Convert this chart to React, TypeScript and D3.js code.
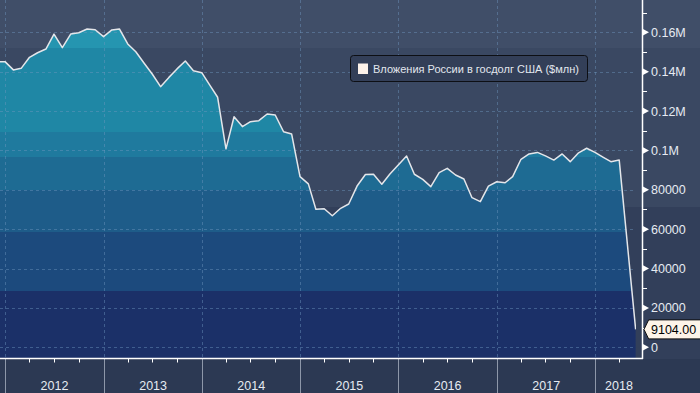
import React from 'react';
import * as d3 from 'd3';

// monthly values, $ mln
const dates = [
  '2011-12-01',
  '2012-01-01', '2012-02-01', '2012-03-01', '2012-04-01', '2012-05-01', '2012-06-01',
  '2012-07-01', '2012-08-01', '2012-09-01', '2012-10-01', '2012-11-01', '2012-12-01',
  '2013-01-01', '2013-02-01', '2013-03-01', '2013-04-01', '2013-05-01', '2013-06-01',
  '2013-07-01', '2013-08-01', '2013-09-01', '2013-10-01', '2013-11-01', '2013-12-01',
  '2014-01-01', '2014-02-01', '2014-03-01', '2014-04-01', '2014-05-01', '2014-06-01',
  '2014-07-01', '2014-08-01', '2014-09-01', '2014-10-01', '2014-11-01', '2014-12-01',
  '2015-01-01', '2015-02-01', '2015-03-01', '2015-04-01', '2015-05-01', '2015-06-01',
  '2015-07-01', '2015-08-01', '2015-09-01', '2015-10-01', '2015-11-01', '2015-12-01',
  '2016-01-01', '2016-02-01', '2016-03-01', '2016-04-01', '2016-05-01', '2016-06-01',
  '2016-07-01', '2016-08-01', '2016-09-01', '2016-10-01', '2016-11-01', '2016-12-01',
  '2017-01-01', '2017-02-01', '2017-03-01', '2017-04-01', '2017-05-01', '2017-06-01',
  '2017-07-01', '2017-08-01', '2017-09-01', '2017-10-01', '2017-11-01', '2017-12-01',
  '2018-01-01', '2018-02-01', '2018-03-01', '2018-04-01', '2018-06-01',
];

const holdings = [
  145100,
  145100, 140900, 141700, 147300, 149600, 151500,
  159100, 152200, 159100, 159800, 161700, 161300,
  157800, 161200, 161700, 154100, 150100, 144300,
  138800, 132400, 137100, 141400, 145400, 140500,
  139500, 132900, 127000, 100800, 117100, 112100,
  114600, 115100, 118500, 118000, 109500, 108300,
  86700, 83000, 70100, 70400, 66800, 70600,
  72800, 81900, 87800, 87900, 82800, 88000,
  92600, 97200, 87900, 85300, 81600, 88700,
  90900, 87500, 85500, 76000, 74000, 81900,
  84100, 83600, 86700, 95500, 98200, 99000,
  97200, 95100, 98200, 94300, 98800, 101100,
  99000, 96500, 94300, 95100, 9104,
];

const years = [2012, 2013, 2014, 2015, 2016, 2017, 2018];
const yMajor = [0, 20000, 40000, 60000, 80000, 100000, 120000, 140000, 160000];
const yMinor = [10000, 30000, 50000, 70000, 90000, 110000, 130000, 150000, 170000];
const legendLabel = 'Вложения России в госдолг США ($млн)';

const W = 700;
const H = 393;
const plotBottom = 359;
const axisX = 642.5;
const plotRight = 636;
const font = '"Liberation Sans", Arial, sans-serif';

const fmtTick = (v: number) => (v >= 100000 ? `${v / 1000000}M` : `${v}`);

export default function App() {
  const parse = d3.timeParse('%Y-%m-%d');
  const data = dates.map((d, i) => ({ date: parse(d) as Date, value: holdings[i] }));

  const x = d3.scaleTime()
    .domain([new Date(2012, 0, 1), new Date(2018, 0, 1)])
    .range([5, 595]);
  const y = d3.scaleLinear().domain([0, 160000]).range([347.3, 32.3]);

  const area = d3.area<{ date: Date; value: number }>()
    .x(d => x(d.date))
    .y0(plotBottom)
    .y1(d => y(d.value));
  const line = d3.line<{ date: Date; value: number }>()
    .x(d => x(d.date))
    .y(d => y(d.value));

  const quarters = d3.timeMonth
    .every(3)!
    .range(new Date(2011, 11, 15), new Date(2018, 5, 15))
    .filter(d => d.getMonth() !== 0);

  const last = data[data.length - 1];
  const lx = x(last.date);
  const ly = y(last.value);

  // banded fill, like the terminal's stepped gradient
  const fillBands: [number, string][] = [
    [48, '#2595b0'],
    [132, '#1f87a5'],
    [157, '#1f7a9e'],
    [190, '#1e6b93'],
    [232, '#1e5c89'],
    [291, '#1c4a7d'],
    [plotBottom, '#1b3068'],
  ];
  const stops: { off: number; color: string }[] = [];
  let prev = 0;
  fillBands.forEach(([end, color]) => {
    stops.push({ off: prev / plotBottom, color });
    stops.push({ off: end / plotBottom, color });
    prev = end;
  });

  return (
    <svg width={W} height={H} style={{ position: 'absolute', left: 0, top: 0, fontFamily: font }}>
      <defs>
        <linearGradient id="fillGrad" x1="0" y1="0" x2="0" y2={plotBottom} gradientUnits="userSpaceOnUse">
          {stops.map((s, i) => (
            <stop key={i} offset={s.off} stopColor={s.color} />
          ))}
        </linearGradient>
        <clipPath id="plotClip">
          <rect x={0} y={0} width={plotRight} height={plotBottom} />
        </clipPath>
      </defs>

      {/* background bands */}
      <rect x={0} y={0} width={W} height={48} fill="#404e68" />
      <rect x={0} y={48} width={W} height={159} fill="#3a4862" />
      <rect x={0} y={207} width={W} height={plotBottom - 207} fill="#323f5a" />
      <rect x={0} y={plotBottom} width={W} height={H - plotBottom} fill="#2c3953" />

      <g clipPath="url(#plotClip)">
        <path d={area(data) || ''} fill="url(#fillGrad)" />
      </g>

      {/* grid */}
      {yMajor.map(v => (
        <line key={v} x1={0} x2={plotRight} y1={Math.round(y(v)) + 0.5} y2={Math.round(y(v)) + 0.5}
          stroke="rgba(110,150,190,0.45)" strokeDasharray="3,3" />
      ))}
      {years.map(yr => (
        <line key={yr} x1={Math.round(x(new Date(yr, 0, 1))) + 0.5} x2={Math.round(x(new Date(yr, 0, 1))) + 0.5}
          y1={0} y2={plotBottom} stroke="rgba(110,150,190,0.45)" strokeDasharray="3,3" />
      ))}

      <g clipPath="url(#plotClip)">
        <path d={line(data) || ''} fill="none" stroke="#e4e6ea" strokeWidth={1.5} strokeLinejoin="round" />
      </g>

      {/* x axis */}
      {years.map(yr => {
        const x0 = Math.round(x(new Date(yr, 0, 1))) + 0.5;
        const x1 = Math.min(x(new Date(yr + 1, 0, 1)), axisX);
        return (
          <g key={yr}>
            <line x1={x0} x2={x0} y1={plotBottom} y2={H} stroke="#8d97a9" />
            <text x={(x0 + x1) / 2} y={390} textAnchor="middle" fontSize={12.5} fill="#e6ebf2">{yr}</text>
          </g>
        );
      })}
      {quarters.map((q, i) => (
        <line key={i} x1={Math.round(x(q)) + 0.5} x2={Math.round(x(q)) + 0.5} y1={plotBottom} y2={plotBottom + 3.5}
          stroke="#ffffff" />
      ))}
      <line x1={0} x2={axisX + 0.5} y1={plotBottom - 0.5} y2={plotBottom - 0.5} stroke="#ffffff" strokeWidth={1.5} />

      {/* y axis */}
      <line x1={axisX} x2={axisX} y1={0} y2={plotBottom} stroke="#ffffff" strokeWidth={1.5} />
      {yMinor.map(v => (
        <line key={v} x1={axisX} x2={axisX + 4.5} y1={Math.round(y(v)) + 0.5} y2={Math.round(y(v)) + 0.5} stroke="#ffffff" />
      ))}
      {yMajor.map(v => {
        const yy = y(v);
        return (
          <g key={v}>
            <path d={`M${axisX},${yy - 3.5}L${axisX + 6.5},${yy}L${axisX},${yy + 3.5}Z`} fill="#ffffff" />
            <text x={651} y={yy} dy="0.36em" fontSize={12.5} fill="#e6ebf2">{fmtTick(v)}</text>
          </g>
        );
      })}

      {/* last value callout */}
      <path
        d={`M${axisX + 1.5},${ly}L${lx + 13},${ly - 9.5}H${W + 2}V${ly + 9.5}H${lx + 13}Z`}
        fill="#fdf4e8" stroke="#111" strokeWidth={1}
      />
      <text x={651} y={ly} dy="0.36em" fontSize={12.5} fill="#000">{d3.format('.2f')(last.value)}</text>

      {/* legend */}
      <rect x={350.5} y={55.5} width={237} height={26} rx={3} fill="#333f58" stroke="#0d0f14" />
      <rect x={358} y={63.5} width={10} height={10.5} fill="#fdf2ea" />
      <text x={373} y={69} dy="0.36em" fontSize={11} fill="#e2e7ee">{legendLabel}</text>
    </svg>
  );
}
